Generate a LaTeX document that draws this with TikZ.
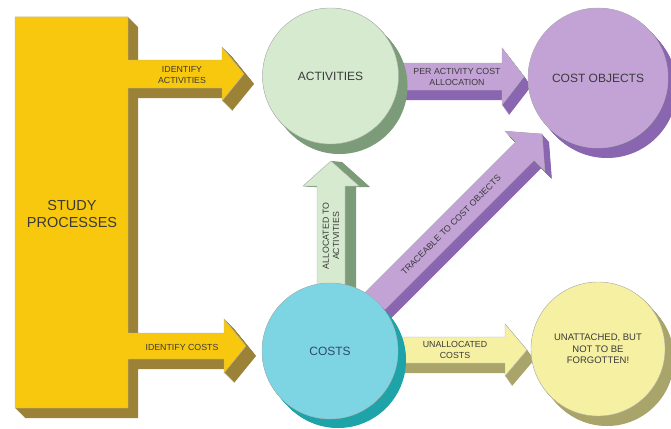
\documentclass[tikz,border=0pt]{standalone}
\usepackage{fontspec}
\setmainfont{Liberation Sans}
\definecolor{yel}{HTML}{F8C80E}
\definecolor{yelD}{HTML}{9B8237}
\definecolor{grn}{HTML}{D6EAD0}
\definecolor{grnD}{HTML}{7C9B78}
\definecolor{pur}{HTML}{C3A3D6}
\definecolor{purD}{HTML}{8B66B0}
\definecolor{cya}{HTML}{7DD4E3}
\definecolor{cyaD}{HTML}{1DA3A8}
\definecolor{pal}{HTML}{F6F0A2}
\definecolor{palD}{HTML}{A9A46A}
\definecolor{txt}{HTML}{3A3A3A}
\definecolor{txtB}{HTML}{2E4A66}
\newcommand{\extr}[4]{\foreach \k in {0,...,20}{\fill[#3, shift={({#1*\k/20},{#2*\k/20})}] #4;}}
\tikzset{
  edge/.style={draw=black!30, line width=0.4pt},
  lbl/.style={font=\fontsize{8.8}{10.2}\selectfont, text=txt, align=center, inner sep=0pt},
  big/.style={font=\fontsize{12}{14}\selectfont, text=txt, align=center, inner sep=0pt},
  blob/.style={circle, minimum size=136pt, inner sep=0pt, edge},
}
\begin{document}
\begin{tikzpicture}[x=1pt,y=-1pt]
\useasboundingbox (0,0) rectangle (671,428);
\fill[white] (0,0) rectangle (671,428);
% yellow block with arrows
\extr{10}{10}{yelD}{(15,17) -- (128,17) -- (128,60) -- (222,60) -- (222,47) -- (244,74) -- (222,101) -- (222,88) -- (128,88) -- (128,333) -- (224,333) -- (224,319) -- (246,346) -- (224,373) -- (224,359) -- (128,359) -- (128,408) -- (15,408) -- cycle}
\path[fill=yel, edge] (15,17) -- (128,17) -- (128,60) -- (222,60) -- (222,47) -- (244,74) -- (222,101) -- (222,88) -- (128,88) -- (128,333) -- (224,333) -- (224,319) -- (246,346) -- (224,373) -- (224,359) -- (128,359) -- (128,408) -- (15,408) -- cycle;
% per activity arrow
\extr{7}{10}{purD}{(385,63) -- (502,63) -- (502,48) -- (524,76.5) -- (502,105) -- (502,90) -- (385,90) -- cycle}
\path[fill=pur, edge] (385,63) -- (502,63) -- (502,48) -- (524,76.5) -- (502,105) -- (502,90) -- (385,90) -- cycle;
% unallocated arrow
\extr{7}{10}{palD}{(385,337) -- (505,337) -- (505,324) -- (527,350) -- (505,376) -- (505,363) -- (385,363) -- cycle}
\path[fill=pal, edge] (385,337) -- (505,337) -- (505,324) -- (527,350) -- (505,376) -- (505,363) -- (385,363) -- cycle;
% vertical arrow
\extr{11}{1}{grnD}{(317,300) -- (317,186) -- (303,186) -- (331,161) -- (359,186) -- (345,186) -- (345,300) -- cycle}
\path[fill=grn, edge] (317,300) -- (317,186) -- (303,186) -- (331,161) -- (359,186) -- (345,186) -- (345,300) -- cycle;
% diagonal arrow
\extr{7}{8}{purD}{(330.8,326.8) -- (515.8,141.8) -- (505.2,131.2) -- (542,134) -- (544.8,170.8) -- (534.2,160.2) -- (349.2,345.2) -- cycle}
\path[fill=pur, edge] (330.8,326.8) -- (515.8,141.8) -- (505.2,131.2) -- (542,134) -- (544.8,170.8) -- (534.2,160.2) -- (349.2,345.2) -- cycle;
% circles
\extr{9}{10}{grnD}{(330.5,76) circle[radius=68pt]}
\node[blob, fill=grn, big] (act) at (330.5,76) {ACTIVITIES};
\extr{9}{10}{purD}{(598,78) circle[radius=70pt]}
\node[blob, minimum size=140pt, fill=pur, big] (obj) at (598,78) {COST OBJECTS};
\extr{8}{9}{cyaD}{(330,351) circle[radius=68pt]}
\node[blob, fill=cya, big, text=txtB] (cost) at (330,351) {COSTS};
\extr{9}{10}{palD}{(598,349) circle[radius=67pt]}
\node[blob, minimum size=134pt, fill=pal, font=\fontsize{9.5}{11.5}\selectfont, text=txt, align=center] (un) at (598,349) {UNATTACHED, BUT\\NOT TO BE\\FORGOTTEN!};
% labels
\node[font=\fontsize{14.5}{17}\selectfont, text=txt, align=center] (sp) at (72,214) {STUDY\\PROCESSES};
\node[lbl] (ia) at (182,75) {IDENTIFY\\ACTIVITIES};
\node[lbl] (ic) at (182,347) {IDENTIFY COSTS};
\node[lbl] (pa) at (457,77) {PER ACTIVITY COST\\ALLOCATION};
\node[lbl] (ua) at (455,350) {UNALLOCATED\\COSTS};
\node[lbl, rotate=90] (aa) at (331,236) {ALLOCATED TO\\ACTIVITIES};
\node[lbl, rotate=45] (tc) at (451,225) {TRACEABLE TO COST OBJECTS};
\end{tikzpicture}
\end{document}
